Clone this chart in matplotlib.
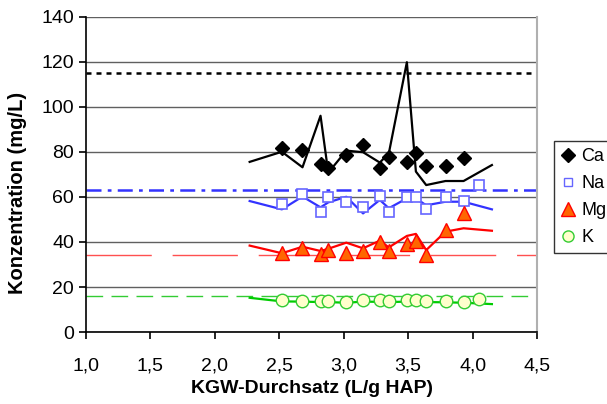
"""
Konzentration von Ca, Na, Mg und K gegen KGW-Durchsatz
"""

import matplotlib
matplotlib.use('Agg')
import matplotlib.pyplot as plt
from matplotlib.lines import Line2D
from matplotlib.ticker import FuncFormatter, MultipleLocator

plt.rcParams['font.family'] = ['Liberation Sans', 'DejaVu Sans']

# Messpunkte (Marker)
x_pts = [2.52, 2.68, 2.82, 2.88, 3.02, 3.15, 3.28, 3.35, 3.49, 3.56, 3.64, 3.79, 3.93]
ca_pts = [81.9, 80.9, 74.5, 72.8, 78.7, 83.1, 73.0, 77.9, 75.6, 79.4, 73.9, 73.9, 77.2]
mg_pts = [35.3, 37.2, 34.5, 36.4, 35.3, 35.9, 39.9, 35.9, 39.1, 40.4, 34.2, 45.3, 53.0]

x_pts_ext = x_pts + [4.05]
na_pts = [56.7, 61.3, 53.2, 59.9, 57.9, 55.7, 60.4, 53.2, 59.9, 59.9, 54.8, 59.9, 58.2, 65.3]
k_pts = [14.2, 13.8, 13.8, 13.8, 13.2, 14.2, 14.2, 13.8, 14.2, 14.2, 13.8, 13.8, 13.2, 14.5]

# Modellkurven (Linien)
x_line = [2.27, 2.52, 2.68, 2.82, 2.88, 3.02, 3.15, 3.28, 3.35, 3.49, 3.56, 3.64, 3.79, 3.93, 4.15]
ca_line = [75.6, 80.1, 73.2, 96.1, 70.8, 80.6, 79.9, 75.3, 79.4, 119.9, 71.3, 65.3, 67.1, 67.1, 74.2]
na_line = [58.2, 54.5, 60.2, 55.4, 57.6, 60.1, 52.7, 58.7, 55.0, 59.4, 59.4, 56.3, 57.9, 57.9, 54.5]
mg_line = [38.4, 35.0, 37.9, 36.0, 37.0, 39.7, 37.2, 40.6, 37.6, 42.7, 43.6, 36.4, 44.6, 46.1, 45.0]
k_line = [15.2, 13.6, 13.5, 13.3, 13.3, 13.0, 13.5, 13.4, 13.3, 13.5, 13.5, 13.3, 13.2, 13.0, 12.4]

# Grenzwerte
ref_ca = 115
ref_na = 63
ref_mg = 34
ref_k = 16

fig = plt.figure(figsize=(6.07, 4.04), dpi=100)
ax = fig.add_axes([0.1417, 0.1782, 0.7430, 0.7798])

# Grid and frame
ax.set_axisbelow(True)
ax.yaxis.grid(True, color='#606060', linewidth=1.0)
ax.spines['top'].set_visible(False)
ax.spines['right'].set_color('#b0b0b0')
ax.spines['right'].set_linewidth(1.5)
ax.spines['left'].set_linewidth(1.2)
ax.spines['bottom'].set_linewidth(1.2)

# Reference lines
ax.axhline(ref_ca, color='black', linewidth=1.8, linestyle=(0, (2, 2)))
ax.axhline(ref_na, color='#3333ff', linewidth=1.8, linestyle=(0, (6, 2.5, 1.5, 2.5)))
ax.axhline(ref_mg, color='#ff5050', linewidth=1.0, linestyle=(0, (47, 15)))
ax.axhline(ref_k, color='#33cc33', linewidth=1.0, linestyle=(0, (12, 6)))

# Lines
ax.plot(x_line, ca_line, color='black', linewidth=1.6)
ax.plot(x_line, na_line, color='#3333ff', linewidth=1.6)
ax.plot(x_line, mg_line, color='#ff0000', linewidth=1.6)
ax.plot(x_line, k_line, color='#00cc00', linewidth=1.6)

# Markers
ax.plot(x_pts, ca_pts, linestyle='none', marker='D', markersize=7,
        color='black')
ax.plot(x_pts_ext, na_pts, linestyle='none', marker='s', markersize=7,
        markerfacecolor='white', markeredgecolor='#6666ff', markeredgewidth=1.2)
ax.plot(x_pts, mg_pts, linestyle='none', marker='^', markersize=10,
        markerfacecolor='#ff6600', markeredgecolor='#ff0000', markeredgewidth=1.0)
ax.plot(x_pts_ext, k_pts, linestyle='none', marker='o', markersize=9,
        markerfacecolor='#ffffcc', markeredgecolor='#33cc33', markeredgewidth=1.0)

ax.set_xlim(1.0, 4.5)
ax.set_ylim(0, 140)
ax.xaxis.set_major_locator(MultipleLocator(0.5))
ax.yaxis.set_major_locator(MultipleLocator(20))
ax.xaxis.set_major_formatter(FuncFormatter(lambda v, p: f'{v:.1f}'.replace('.', ',')))
ax.tick_params(axis='both', labelsize=14, length=5, width=1.2, direction='out')
ax.tick_params(axis='x', pad=13)

ax.set_xlabel('KGW-Durchsatz (L/g HAP)', fontsize=14, fontweight='bold', labelpad=4)
ax.set_ylabel('Konzentration (mg/L)', fontsize=14.5, fontweight='bold')
ax.yaxis.set_label_coords(-0.131, 0.44)

# Legend (markers only)
handles = [
    Line2D([], [], linestyle='none', marker='D', markersize=7, color='black'),
    Line2D([], [], linestyle='none', marker='s', markersize=6,
           markerfacecolor='white', markeredgecolor='#6666ff'),
    Line2D([], [], linestyle='none', marker='^', markersize=10,
           markerfacecolor='#ff6600', markeredgecolor='#ff0000'),
    Line2D([], [], linestyle='none', marker='o', markersize=8,
           markerfacecolor='#ffffcc', markeredgecolor='#33cc33'),
]
leg = fig.legend(handles, ['Ca', 'Na', 'Mg', 'K'], loc='upper left',
                 bbox_to_anchor=(554 / 607, 1 - 141 / 404), fontsize=13,
                 frameon=True, fancybox=False, edgecolor='black',
                 handlelength=0.8, handletextpad=0.3, borderpad=0.4,
                 labelspacing=0.55, borderaxespad=0)
leg.get_frame().set_linewidth(1.0)

fig.savefig('out.png', dpi=100)
